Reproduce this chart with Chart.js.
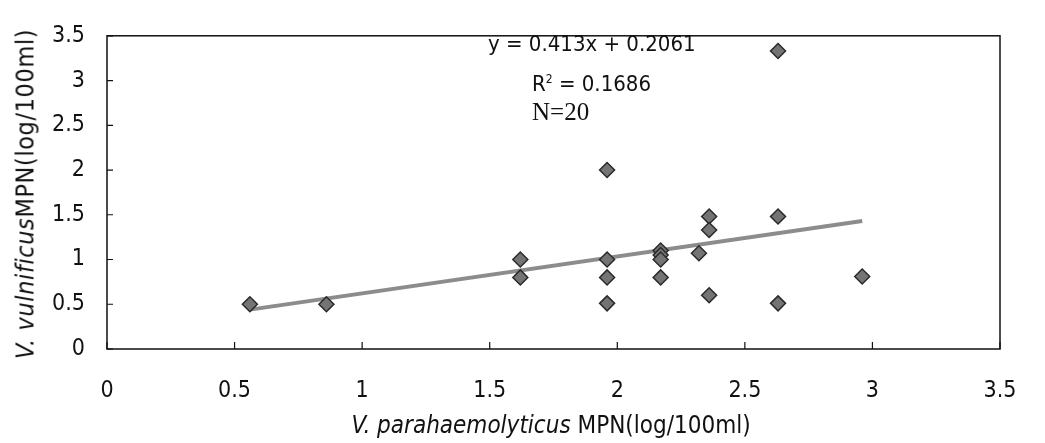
<!DOCTYPE html>
<html>
<head>
<meta charset="utf-8">
<script src="https://cdn.jsdelivr.net/npm/chart.js@4/dist/chart.umd.min.js"></script>
<style>
  html, body { margin: 0; padding: 0; background: #fff; }
  #wrap { position: relative; width: 1045px; height: 443px; }
  .txt { position: absolute; font-family: 'Liberation Sans Narrow', 'Arial Narrow', 'DejaVu Sans Condensed', sans-serif; font-size: 22px; color: #111; white-space: nowrap; }
  .serif { font-family: 'Liberation Serif', 'DejaVu Serif', serif; font-size: 25px; }
  #ytitle { left: 25px; top: 194px; font-size: 25px; letter-spacing: 0.6px; transform: translate(-50%, -50%) rotate(-90deg); }
  #xtitle { left: 551px; top: 425px; font-size: 24px; transform: translate(-50%, -50%); }
</style>
</head>
<body>
<div id="wrap">
  <canvas id="scatterChart" width="1045" height="443"></canvas>
  <div class="txt" id="ytitle"><i>V. vulnificus</i>MPN(log/100ml)</div>
  <div class="txt" id="xtitle"><i>V. parahaemolyticus</i> MPN(log/100ml)</div>
  <div class="txt" style="left:488px; top:31px;">y = 0.413x + 0.2061</div>
  <div class="txt" style="left:532px; top:71px;">R<sup style="font-size:12px">2</sup> = 0.1686</div>
  <div class="txt serif" style="left:532px; top:98px;">N=20</div>
</div>
<script>
// Vp MPN (x) vs Vv MPN (y), log/100ml
const vpValues = [0.56, 0.86, 1.62, 1.62, 1.96, 1.96, 1.96, 1.96, 2.17, 2.17, 2.17, 2.17, 2.32, 2.36, 2.36, 2.36, 2.63, 2.63, 2.63, 2.96]
const vvValues = [0.50, 0.50, 1.00, 0.80, 2.00, 1.00, 0.80, 0.51, 1.10, 1.05, 1.00, 0.80, 1.07, 1.48, 1.33, 0.60, 3.33, 1.48, 0.51, 0.81]

// linha de tendencia (extremos)
const trendX = [0.56, 2.96]
const trendY = [0.44, 1.43]

const xTicks = [0, 0.5, 1, 1.5, 2, 2.5, 3, 3.5]
const yTicks = [0, 0.5, 1, 1.5, 2, 2.5, 3, 3.5]

const tickFont = { family: "'Liberation Sans Narrow', 'Arial Narrow', 'DejaVu Sans Condensed', sans-serif", size: 23 }

const points = []
for (let i = 0; i < vpValues.length; i++) {
    points.push({ x: vpValues[i], y: vvValues[i] })
}
const trend = []
for (let i = 0; i < trendX.length; i++) {
    trend.push({ x: trendX[i], y: trendY[i] })
}

// moldura e marcas internas dos eixos
const frameAndTicks = {
    id: 'frameAndTicks',
    afterDraw(chart) {
        const { ctx, chartArea: a, scales } = chart
        ctx.save()
        ctx.strokeStyle = '#111'
        ctx.lineWidth = 1.5
        ctx.strokeRect(a.left, a.top, a.right - a.left, a.bottom - a.top)
        ctx.lineWidth = 1.2
        ctx.beginPath()
        yTicks.forEach(v => {
            const py = scales.y.getPixelForValue(v)
            ctx.moveTo(a.left, py)
            ctx.lineTo(a.left + 6, py)
        })
        xTicks.forEach(v => {
            const px = scales.x.getPixelForValue(v)
            ctx.moveTo(px, a.bottom)
            ctx.lineTo(px, a.bottom - 7)
        })
        ctx.stroke()
        ctx.restore()
    }
}

const config = {
    type: 'scatter',
    data: {
        datasets: [
            {
                label: 'trend',
                type: 'line',
                data: trend,
                borderColor: '#8c8c8c',
                borderWidth: 4,
                pointRadius: 0,
                fill: false,
                order: 2
            },
            {
                label: 'MPN',
                data: points,
                pointStyle: 'rectRot',
                pointRadius: 7.5,
                backgroundColor: '#747474',
                borderColor: '#2a2a2a',
                borderWidth: 1.5,
                order: 1
            }
        ]
    },
    options: {
        responsive: false,
        animation: false,
        layout: { padding: { top: 15, right: 45, left: 0, bottom: 0 } },
        plugins: { legend: { display: false }, tooltip: { enabled: false } },
        scales: {
            x: {
                type: 'linear',
                min: 0, max: 3.5,
                afterFit: s => { s.height = 94 },
                afterBuildTicks: s => { s.ticks = xTicks.map(v => ({ value: v })) },
                grid: { display: false, drawTicks: false },
                border: { display: false },
                ticks: { font: tickFont, color: '#111', padding: 28, callback: v => String(v) }
            },
            y: {
                type: 'linear',
                min: 0, max: 3.5,
                afterFit: s => { s.width = 107 },
                afterBuildTicks: s => { s.ticks = yTicks.map(v => ({ value: v })) },
                grid: { display: false, drawTicks: false },
                border: { display: false },
                ticks: { font: tickFont, color: '#111', padding: 22, callback: v => String(v) }
            }
        }
    },
    plugins: [frameAndTicks]
}

const ctxScatter = document.getElementById('scatterChart').getContext('2d')
new Chart(ctxScatter, config)
</script>
</body>
</html>
